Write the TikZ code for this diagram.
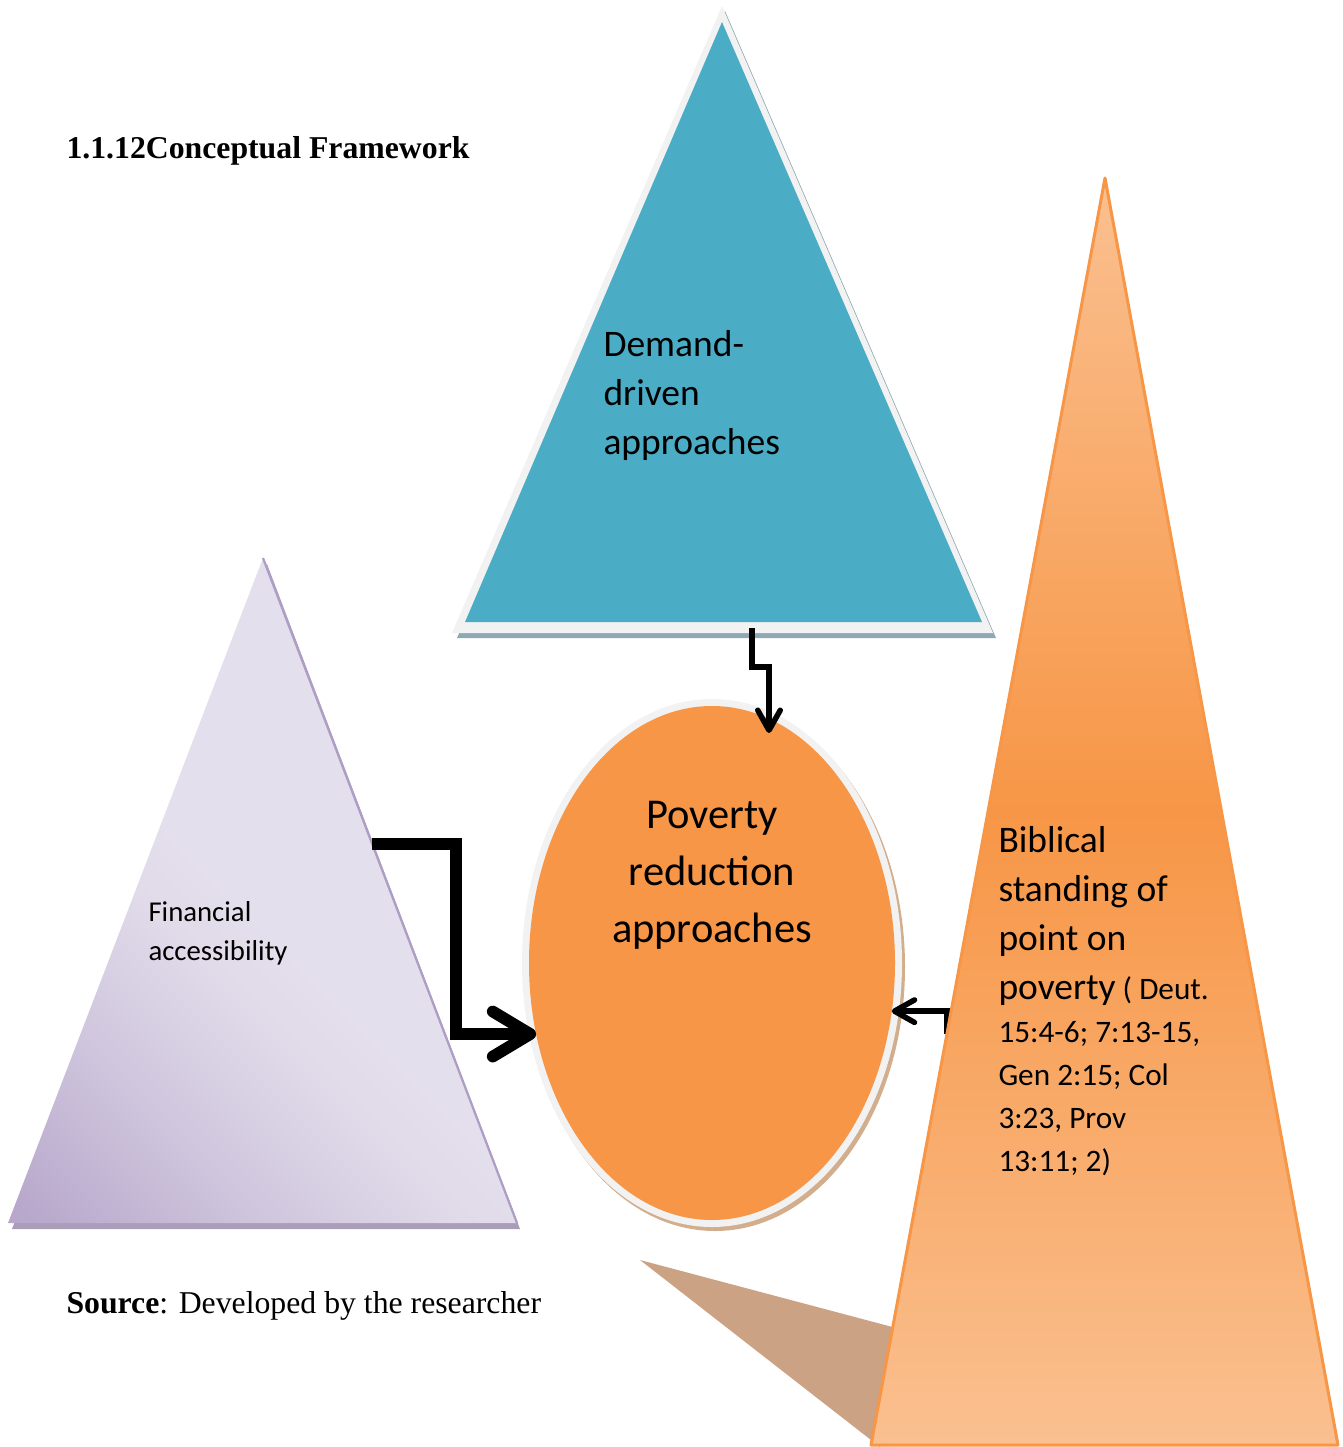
\documentclass[tikz,border=0pt]{standalone}
\usepackage{fontspec}
\setmainfont{Liberation Serif}
\newfontfamily\calibri{Carlito}
\usetikzlibrary{positioning,shapes.geometric,arrows.meta,calc}
\definecolor{demblue}{HTML}{4BACC6}
\definecolor{demshade}{HTML}{8FA9B4}
\definecolor{halogray}{HTML}{F2F2F2}
\definecolor{findark}{HTML}{B1A0C7}
\definecolor{finlight}{HTML}{E4DFEC}
\definecolor{finedge}{HTML}{AE9DC5}
\definecolor{finshade}{HTML}{A99DB7}
\definecolor{povorange}{HTML}{F79646}
\definecolor{povshade}{HTML}{D2AE8D}
\definecolor{biblight}{HTML}{FAC090}
\definecolor{brownshade}{HTML}{CBA283}
\pgfdeclareverticalshading{finshading}{100bp}{color(0bp)=(findark); color(10bp)=(findark);
  color(17bp)=(findark!84!finlight); color(30bp)=(findark!41!finlight); color(42bp)=(findark!8!finlight);
  color(48bp)=(finlight); color(100bp)=(finlight)}
\newcommand{\bibbig}{\calibri\fontsize{15}{19.6}\selectfont}
\newcommand{\bibsmall}{\calibri\fontsize{12.5}{17.2}\selectfont}
\tikzset{%
  halo/.style={fill=halogray},
  fatarrow/.style={line width=4.7pt,-{Straight Barb[round,length=15pt,width=18pt]}},
  thinarrow/.style={line width=2.2pt,-{Straight Barb[round,length=8pt,width=9pt]}},
  lbl/.style={align=left,inner sep=0pt,anchor=north west},
  serif12/.style={inner sep=0pt,anchor=base west,font=\fontsize{12.7}{15}\selectfont}
}

\begin{document}
\begin{tikzpicture}[x=0.4pt,y=-0.4pt]
  \useasboundingbox (0,0) rectangle (1343,1447);

  \coordinate (fintop) at (263,558);
  \coordinate (finleft) at (8,1223);
  \coordinate (finright) at (517,1223);
  \fill[finshade] ($(fintop)+(4,6)$) -- ($(finleft)+(4,6)$) -- ($(finright)+(3,6)$) -- cycle;
  \shade[shading=finshading,shading angle=-45] (fintop) -- (finleft) -- (finright) -- cycle;
  \draw[finedge,line width=0.9pt] (fintop) -- (finright);

  \coordinate (demtop) at (722,22);
  \coordinate (demleft) at (465,622);
  \coordinate (demright) at (982,622);
  \fill[demshade] (725,11) -- (457,638) -- (996,638) -- cycle;
  \fill[halo] (722,6) -- (452,633) -- (993,633) -- cycle;
  \fill[demblue] (demtop) -- (demleft) -- (demright) -- cycle;

  \fill[brownshade] (640,1260) -- (900,1329) -- (880,1447) -- cycle;

  \fill[povshade] (715,967) ellipse [x radius=190,y radius=264];
  \fill[halo] (712,963) ellipse [x radius=190,y radius=264];
  \node[ellipse,fill=povorange,minimum width=146.4pt,minimum height=205.6pt,
    inner sep=0pt,outer sep=0pt] (pov) at (712,963) {};

  \coordinate (bibtop) at (1105,178);
  \coordinate (bibleft) at (871,1445);
  \coordinate (bibright) at (1338,1445);

  \coordinate (demout) at (752,628);
  \coordinate (povtop) at (769,733);
  \coordinate (finout) at ($(fintop)!0.43!(finright)$);
  \coordinate (finbend) at (456,0);
  \coordinate (bibout) at ($(bibtop)!0.676!(bibleft)$);
  \draw[thinarrow] (demout) -- ++(0,39) -| (povtop);
  \draw[fatarrow] (finout) -| (finbend |- pov.202) -- (pov.202);
  \draw[thinarrow] (bibout) |- (pov.345);

  \shade[top color=biblight,bottom color=biblight,middle color=povorange]
    (bibtop) -- (bibleft) -- (bibright) -- cycle;
  \draw[povorange,line width=1.2pt,line join=round] (bibtop) -- (bibleft) -- (bibright) -- cycle;

  \node[serif12,font=\bfseries\fontsize{12.7}{15}\selectfont] (title) at (66,158) {1.1.12Conceptual Framework};
  \node[serif12] (source) at (66,1313) {\textbf{Source}: Developed by the researcher};

  \node[lbl,font=\calibri\fontsize{15}{19.6}\selectfont] (demtxt) at (603,330) {Demand-\\driven\\approaches};
  \node[lbl,font=\calibri\fontsize{11.5}{15.6}\selectfont] (fintxt) at (148,901) {Financial\\accessibility};
  \node[inner sep=0pt,anchor=north,align=center,font=\calibri\fontsize{17}{22.8}\selectfont] (povtxt) at (712,801)
    {Poverty\\reduction\\approaches};
  \node[lbl,font=\bibbig] (bibtxt) at (998,826)
    {Biblical\\standing of\\point on\\poverty{\bibsmall\ ( Deut.}\\[-2.4pt]
     {\bibsmall 15:4-6; 7:13-15,}\\[-2.4pt]{\bibsmall Gen 2:15; Col}\\[-2.4pt]
     {\bibsmall 3:23, Prov}\\[-2.4pt]{\bibsmall 13:11; 2)}};
\end{tikzpicture}
\end{document}
